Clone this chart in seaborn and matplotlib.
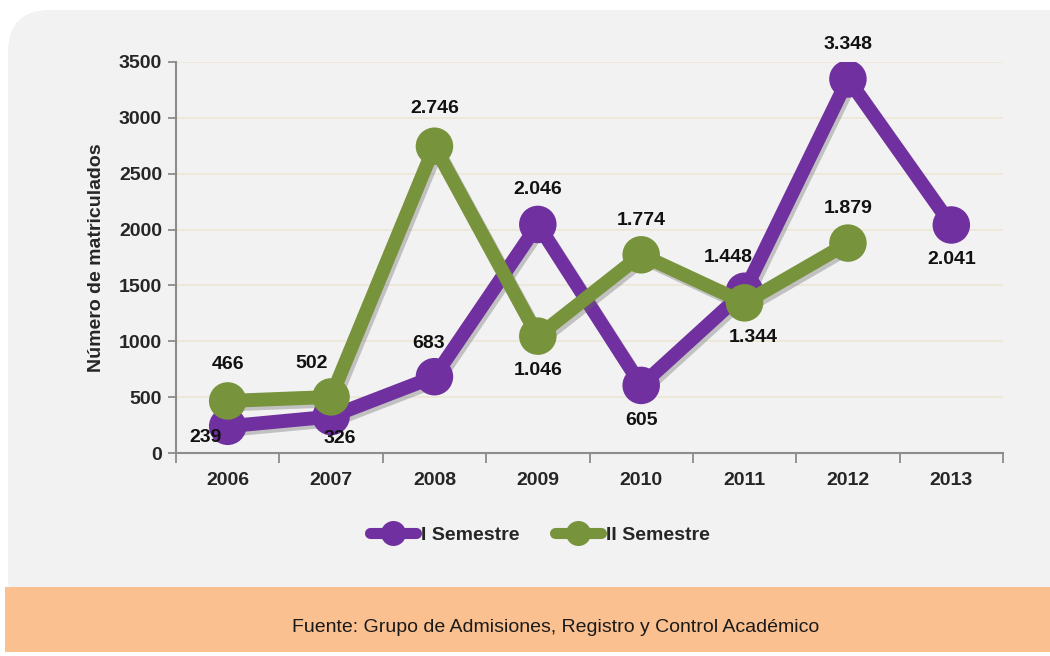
import matplotlib
matplotlib.use("Agg")
import matplotlib.pyplot as plt
import matplotlib.patheffects as pe
from matplotlib.patches import FancyBboxPatch, Rectangle
from matplotlib.lines import Line2D
import seaborn as sns
import pandas as pd
import numpy as np

years = ["2006", "2007", "2008", "2009", "2010", "2011", "2012", "2013"]
sem1 = [239, 326, 683, 2046, 605, 1448, 3348, 2041]
sem2 = [466, 502, 2746, 1046, 1774, 1344, 1879, None]
series_names = ["I Semestre", "II Semestre"]
sem1_labels = ["239", "326", "683", "2.046", "605", "1.448", "3.348", "2.041"]
sem2_labels = ["466", "502", "2.746", "1.046", "1.774", "1.344", "1.879", None]

sns.set_theme(style="white")
plt.rcParams['font.family'] = ['Liberation Sans', 'DejaVu Sans']

PURPLE = "#7030A0"
GREEN = "#77933C"

fig = plt.figure(figsize=(10.5, 6.56), dpi=100, facecolor="white")

# background panel and footer
W, H = 1050, 656
panel = FancyBboxPatch((8 / W, (656 - 620) / H), (1050 - 8) / W + 0.05, (620 - 10) / H,
                       boxstyle="round,pad=0,rounding_size=0.04", transform=fig.transFigure,
                       facecolor="#f2f2f2", edgecolor="none", zorder=-10, mutation_aspect=W / H)
fig.patches.append(panel)
footer = Rectangle((5 / W, (656 - 652) / H), 1.0, (652 - 587) / H, transform=fig.transFigure,
                   facecolor="#fac090", edgecolor="none", zorder=-9)
fig.patches.append(footer)
fig.text(556 / W, (656 - 627) / H, "Fuente: Grupo de Admisiones, Registro y Control Académico",
         ha="center", va="center", fontsize=14, color="#1a1a1a")

ax = fig.add_axes([176 / W, (656 - 453) / H, (1003 - 176) / W, (453 - 62) / H])
ax.set_facecolor("none")

x = np.arange(len(years))
df = pd.DataFrame({
    "x": np.concatenate([x, x]),
    "value": sem1 + sem2,
    "serie": [series_names[0]] * len(years) + [series_names[1]] * len(years),
}).dropna()

shadow = [pe.SimpleLineShadow(offset=(2, -2.5), shadow_color="#666666", alpha=0.35), pe.Normal()]

sns.lineplot(data=df, x="x", y="value", hue="serie", palette={series_names[0]: PURPLE, series_names[1]: GREEN},
             marker="o", markersize=27, linewidth=10, markeredgewidth=0, legend=False, ax=ax, sort=False)
for i, line in enumerate(ax.get_lines()):
    line.set_path_effects(shadow)
    line.set_zorder(3 + i)
    line.set_solid_joinstyle("round")

ax.set_xlim(-0.5, len(years) - 0.5)
ax.set_ylim(0, 3500)
ax.set_yticks(np.arange(0, 3501, 500))
ax.set_yticklabels([str(v) for v in range(0, 3501, 500)], fontsize=14, fontweight="bold")
ax.set_xticks(x)
ax.set_xticklabels(years, fontsize=14, fontweight="bold")
ax.set_xticks(np.arange(-0.5, len(years), 1), minor=True)
ax.tick_params(axis="x", which="major", length=0, pad=14)
ax.tick_params(axis="x", which="minor", length=7, width=1.3, color="#8c8c8c", direction="out", bottom=True)
ax.tick_params(axis="y", length=6, width=1.3, color="#8c8c8c", direction="out", left=True, pad=4)
ax.grid(axis="y", color="#ece7d6", linewidth=1.2)
ax.set_axisbelow(True)
for s in ["top", "right"]:
    ax.spines[s].set_visible(False)
for s in ["left", "bottom"]:
    ax.spines[s].set_color("#8c8c8c")
    ax.spines[s].set_linewidth(1.5)
ax.set_xlabel("")
ax.set_ylabel("Número de matriculados", fontsize=14, fontweight="bold", labelpad=10)

# data labels (offset in points)
off1 = [(-16, -8), (6, -16), (-4, 24), (0, 25), (0, -25), (-12, 24), (0, 25), (0, -25)]
off2 = [(0, 26), (-14, 24), (0, 27), (0, -25), (0, 25), (6, -25), (0, 25), None]
for i, (v, lab, o) in enumerate(zip(sem1, sem1_labels, off1)):
    ax.annotate(lab, (x[i], v), xytext=o, textcoords="offset points", ha="center", va="center",
                fontsize=14, fontweight="bold", color="#111111", zorder=10)
for i, (v, lab, o) in enumerate(zip(sem2, sem2_labels, off2)):
    if v is None:
        continue
    ax.annotate(lab, (x[i], v), xytext=o, textcoords="offset points", ha="center", va="center",
                fontsize=14, fontweight="bold", color="#111111", zorder=10)

handles = [Line2D([], [], color=PURPLE, lw=8, marker="o", markersize=18, markeredgewidth=0),
           Line2D([], [], color=GREEN, lw=8, marker="o", markersize=18, markeredgewidth=0)]
fig.legend(handles, series_names, loc="center", bbox_to_anchor=(540 / W, (656 - 535) / H),
           ncol=2, frameon=False, handlelength=2.4, handletextpad=0.25, columnspacing=1.8,
           prop={"weight": "bold", "size": 14})

fig.savefig("out.png", dpi=100, facecolor="white")
